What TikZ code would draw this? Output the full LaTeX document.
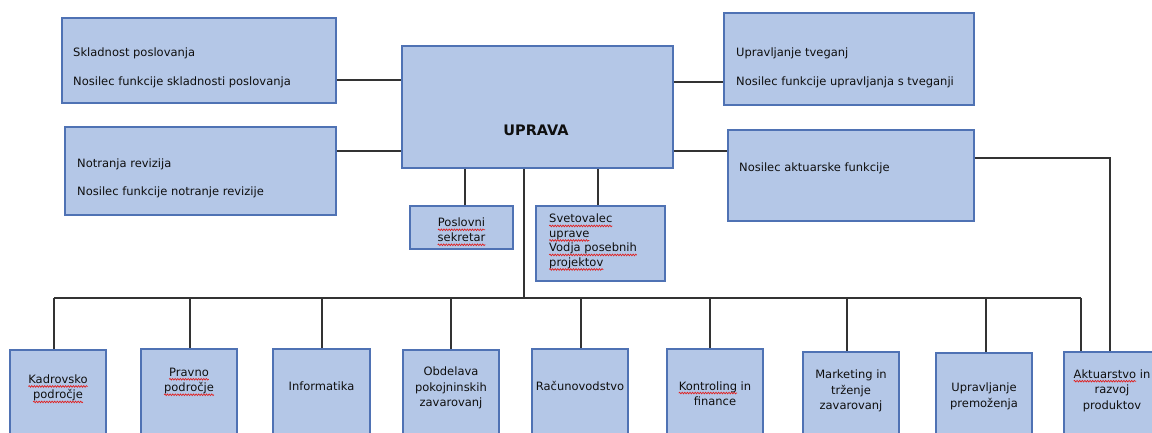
\documentclass[tikz,border=0pt]{standalone}
\usepackage{fontspec}
\usetikzlibrary{decorations.pathmorphing}
\setmainfont{DejaVu Sans}
\definecolor{boxfill}{HTML}{B4C7E7}
\definecolor{boxline}{HTML}{4F72B4}
\definecolor{conn}{HTML}{333333}
\definecolor{ink}{HTML}{0F0F0F}
\definecolor{spell}{HTML}{E02020}
\newsavebox\wavebox
\newcommand\redwave[1]{\sbox\wavebox{#1}\leavevmode\rlap{\usebox\wavebox}%
  \tikz[baseline=0pt]{\useasboundingbox (0pt,0pt) rectangle (\wd\wavebox,0.1pt);
  \draw[spell, line width=0.7pt, decorate, decoration={snake, amplitude=0.8pt, segment length=2.6pt}] (0pt,-3pt) -- (\wd\wavebox,-3pt);}}
\begin{document}
\begin{tikzpicture}[x=1pt,y=-1pt,
  box/.style={draw=boxline, fill=boxfill, line width=1.2pt, inner sep=0pt},
  ltxt/.style={font=\fontsize{11.5}{14}\selectfont, text=ink, inner sep=0pt, anchor=west},
  ctxt/.style={font=\fontsize{11.5}{15.5}\selectfont, text=ink, inner sep=0pt, align=center},
  stxt/.style={font=\fontsize{11.5}{14.5}\selectfont, text=ink, inner sep=0pt, align=left, anchor=north west},
  link/.style={draw=conn, line width=1.2pt}]
\useasboundingbox (0,0) rectangle (1152,432);
\clip (0,0) rectangle (1152,432);
\fill[white] (0,0) rectangle (1152,432);

% top level boxes
\node[box, minimum width=274pt, minimum height=85pt] (sk) at (199,60.5) {};
\node[ltxt] (sk1) at (73,53) {Skladnost poslovanja};
\node[ltxt] (sk2) at (73,82) {Nosilec funkcije skladnosti poslovanja};

\node[box, minimum width=271pt, minimum height=88pt] (nr) at (200.5,171) {};
\node[ltxt] (nr1) at (77,164) {Notranja revizija};
\node[ltxt] (nr2) at (77,192) {Nosilec funkcije notranje revizije};

\node[box, minimum width=271pt, minimum height=122pt] (up) at (537.5,107) {};
\node[font=\bfseries\fontsize{14.5}{16}\selectfont, text=ink, inner sep=0pt] (upt) at (536,130) {UPRAVA};

\node[box, minimum width=250pt, minimum height=92pt] (ut) at (849,59) {};
\node[ltxt] (ut1) at (736,53) {Upravljanje tveganj};
\node[ltxt] (ut2) at (736,82) {Nosilec funkcije upravljanja s tveganji};

\node[box, minimum width=246pt, minimum height=91pt] (ak) at (851,175.5) {};
\node[ltxt] (ak1) at (739,168) {Nosilec aktuarske funkcije};

\node[box, minimum width=103pt, minimum height=43pt] (ps) at (461.5,227.5) {};
\node[ctxt, font=\fontsize{11.5}{15}\selectfont] (pst) at (461.5,230) {\redwave{Poslovni}\\\redwave{sekretar}};

\node[box, minimum width=129pt, minimum height=75pt] (sv) at (600.5,243.5) {};
\node[stxt] (svt) at (549,214) {\redwave{Svetovalec}\\\redwave{uprave}\\\redwave{Vodja posebnih}\\\redwave{projektov}};

% bottom boxes
\node[box, minimum width=96pt, minimum height=110pt] (b1) at (58,405) {};
\node[ctxt] (t1) at (58,388) {\redwave{Kadrovsko}\\\redwave{področje}};
\node[box, minimum width=96pt, minimum height=110pt] (b2) at (189,404) {};
\node[ctxt] (t2) at (189,381) {\redwave{Pravno}\\\redwave{področje}};
\node[box, minimum width=97pt, minimum height=110pt] (b3) at (321.5,404) {};
\node[ctxt] (t3) at (321.5,386) {Informatika};
\node[box, minimum width=96pt, minimum height=110pt] (b4) at (451,405) {};
\node[ctxt] (t4) at (451,388) {Obdelava\\pokojninskih\\zavarovanj};
\node[box, minimum width=96pt, minimum height=110pt] (b5) at (580,404) {};
\node[ctxt] (t5) at (580,386) {Računovodstvo};
\node[box, minimum width=96pt, minimum height=110pt] (b6) at (715,404) {};
\node[ctxt] (t6) at (715,393.5) {\redwave{Kontroling} in\\finance};
\node[box, minimum width=96pt, minimum height=110pt] (b7) at (851,407) {};
\node[ctxt] (t7) at (851,391) {Marketing in\\trženje\\zavarovanj};
\node[box, minimum width=96pt, minimum height=110pt] (b8) at (984,408) {};
\node[ctxt] (t8) at (984,396.5) {Upravljanje\\premoženja};
\node[box, minimum width=96pt, minimum height=110pt] (b9) at (1112,407) {};
\node[ctxt] (t9) at (1112,390.5) {\redwave{Aktuarstvo} in\\razvoj\\produktov};

% connectors
\path[link] (sk.east |- 0,80) -- (up.west |- 0,80);
\path[link] (nr.east |- 0,151) -- (up.west |- 0,151);
\path[link] (up.east |- 0,82) -- (ut.west |- 0,82);
\path[link] (up.east |- 0,151) -- (ak.west |- 0,151);
\path[link] (ps.north -| 465,0) -- (up.south -| 465,0);
\path[link] (sv.north -| 598,0) -- (up.south -| 598,0);

\coordinate (busL) at (54,298);
\coordinate (busR) at (1081,298);
\coordinate (trunk) at (524,298);
\path[link] (up.south -| trunk) -- (trunk);
\path[link] (busL) -- (busR);
\path[link] (busL) -- (b1.north -| busL);
\foreach \n/\x in {2/190,3/322,4/451,5/581,6/710,7/847,8/986} {
  \coordinate (tap\n) at (\x,298);
  \path[link] (tap\n) -- (b\n.north -| tap\n);
}
\path[link] (busR) -- (b9.north -| busR);
\coordinate (aktR) at (1110,158);
\path[link] (ak.east |- aktR) -- (aktR) -- (b9.north -| aktR);
\end{tikzpicture}
\end{document}
